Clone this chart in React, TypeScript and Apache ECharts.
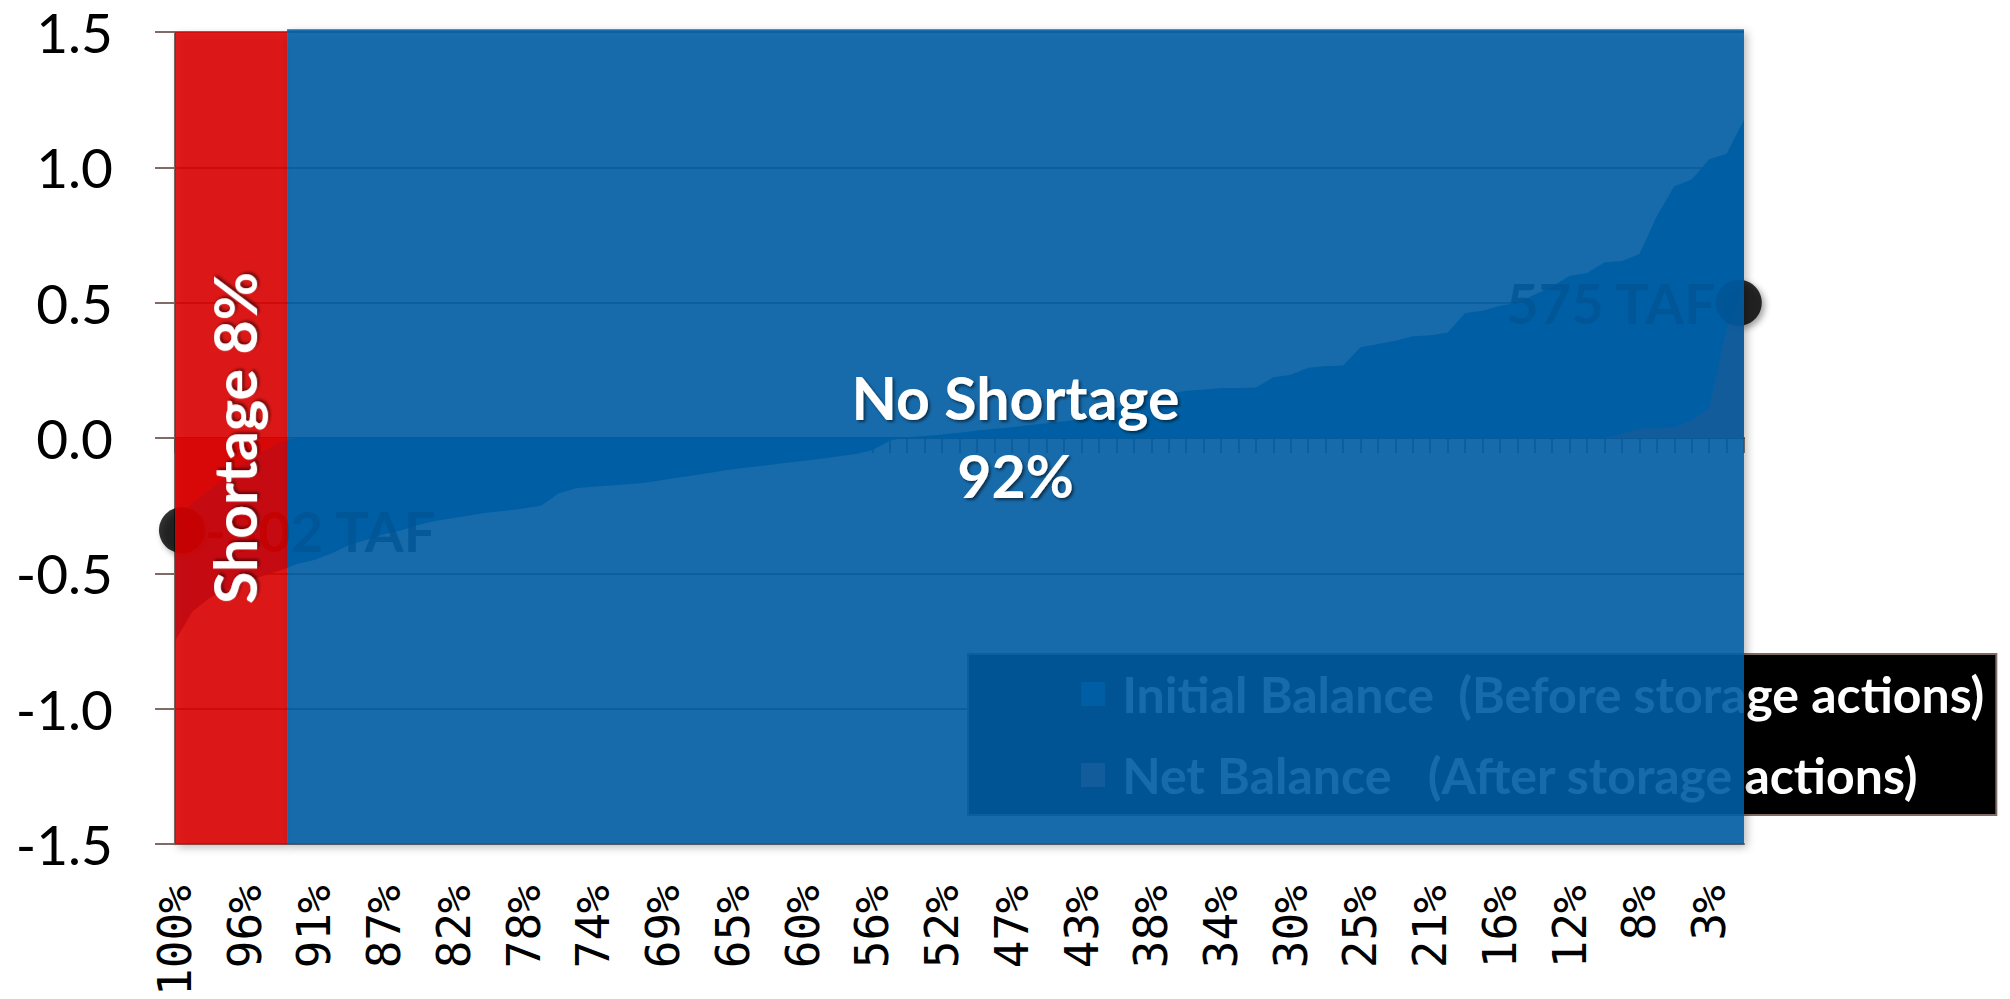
import React, { useEffect, useRef } from 'react';
import * as echarts from 'echarts';

// Exceedance probability categories (91 points)
const categories = [
  '100%', '99%', '98%', '97%', '96%', '95%', '93%', '92%', '91%', '90%',
  '89%', '88%', '87%', '86%', '85%', '84%', '82%', '81%', '80%', '79%',
  '78%', '77%', '76%', '75%', '74%', '73%', '71%', '70%', '69%', '68%',
  '67%', '66%', '65%', '64%', '63%', '62%', '60%', '59%', '58%', '57%',
  '56%', '55%', '54%', '53%', '52%', '51%', '49%', '48%', '47%', '46%',
  '45%', '44%', '43%', '42%', '41%', '40%', '38%', '37%', '36%', '35%',
  '34%', '33%', '32%', '31%', '30%', '29%', '27%', '26%', '25%', '24%',
  '23%', '22%', '21%', '20%', '19%', '18%', '16%', '15%', '14%', '13%',
  '12%', '11%', '10%', '9%', '8%', '7%', '5%', '4%', '3%', '2%',
  '1%',
];

// Initial Balance (Before storage actions), MAF
const initialBalance = [
  -0.75, -0.64, -0.59, -0.56, -0.53, -0.51, -0.49, -0.465, -0.45, -0.425,
  -0.395, -0.375, -0.355, -0.34, -0.32, -0.305, -0.295, -0.285, -0.275, -0.268,
  -0.26, -0.25, -0.205, -0.185, -0.18, -0.175, -0.17, -0.165, -0.155, -0.145,
  -0.135, -0.125, -0.115, -0.108, -0.1, -0.092, -0.085, -0.077, -0.068, -0.06,
  -0.045, -0.01, 0.003, 0.008, 0.013, 0.02, 0.028, 0.035, 0.04, 0.048,
  0.055, 0.062, 0.07, 0.09, 0.11, 0.135, 0.155, 0.165, 0.175, 0.18,
  0.185, 0.185, 0.187, 0.225, 0.234, 0.26, 0.266, 0.268, 0.336, 0.348,
  0.36, 0.376, 0.38, 0.39, 0.462, 0.47, 0.489, 0.5, 0.53, 0.56,
  0.6, 0.61, 0.65, 0.654, 0.68, 0.82, 0.93, 0.955, 1.03, 1.05,
  1.176,
];

// Net Balance (After storage actions), MAF
const netBalance = [
  -0.3, -0.24, -0.19, -0.14, -0.09, -0.05, -0.015, 0, 0, 0,
  0, 0, 0, 0, 0, 0, 0, 0, 0, 0,
  0, 0, 0, 0, 0, 0, 0, 0, 0, 0,
  0, 0, 0, 0, 0, 0, 0, 0, 0, 0,
  0, 0, 0, 0, 0, 0, 0, 0, 0, 0,
  0, 0, 0, 0, 0, 0, 0, 0, 0, 0,
  0, 0, 0, 0, 0, 0, 0, 0, 0, 0,
  0, 0, 0, 0, 0, 0, 0, 0, 0, 0,
  0, 0, 0, 0.015, 0.035, 0.036, 0.04, 0.065, 0.11, 0.4,
  0.575,
];

const seriesNames = [
  'Initial Balance  (Before storage actions)',
  'Net Balance   (After storage actions)',
];

// Shaded zones (in category-index units) and their labels
const zoneFrom = [0, 6.43];
const zoneTo = [6.43, 90];
const zoneTop = [1.5, 1.51];
const zoneBottom = [-1.5, -1.5];
const zoneLabels = ['Shortage 8%', 'No Shortage\n92%'];

// Annotated points
const dotX = [0.4, 89.7];
const dotY = [-0.34, 0.5];
const dotLabels = ['-302 TAF', '575 TAF'];

const Y_MIN = -1.5;
const Y_MAX = 1.5;
const Y_STEP = 0.5;

const axisColor = '#806c64';
const initialColor = 'rgb(0,122,188)';
const netColor = 'rgb(213,88,88)';
const zoneFill = ['rgba(220,0,0,0.88)', 'rgba(0,93,165,0.88)'];
const zoneRotation = [Math.PI / 2, 0];

export default function App() {
  const ref = useRef<HTMLDivElement>(null);

  useEffect(() => {
    if (!ref.current) return;
    const chart = echarts.init(ref.current, undefined, { renderer: 'svg' });

    const option: any = {
      animation: false,
      backgroundColor: '#ffffff',
      grid: { left: 175, right: 266, top: 32, bottom: 152, containLabel: false },
      legend: {
        data: seriesNames,
        orient: 'vertical',
        left: 968,
        top: 654,
        padding: [15, 12, 15, 113],
        itemGap: 31,
        itemWidth: 24,
        itemHeight: 24,
        icon: 'rect',
        backgroundColor: '#000000',
        borderColor: axisColor,
        borderWidth: 2,
        itemStyle: { borderWidth: 0 },
        formatter: (name: string) => ' ' + name,
        textStyle: {
          color: '#ffffff',
          fontFamily: 'Lato',
          fontWeight: 'bold',
          fontSize: 50,
        },
      },
      xAxis: [
        {
          type: 'category',
          data: categories,
          boundaryGap: false,
          axisLine: { onZero: false, lineStyle: { color: axisColor, width: 2 } },
          axisTick: { show: false },
          axisLabel: {
            interval: 3,
            rotate: 90,
            margin: 41,
            fontFamily: 'DejaVu Sans Mono',
            fontSize: 46,
            color: '#000000',
          },
          splitLine: { show: false },
        },
        {
          type: 'category',
          data: categories,
          boundaryGap: false,
          position: 'bottom',
          axisLine: { onZero: true, lineStyle: { color: '#5e4e48', width: 2 } },
          axisTick: { show: true, interval: 0, length: 15, lineStyle: { color: '#5e4e48', width: 1.5 } },
          axisLabel: { show: false },
          splitLine: { show: false },
        },
        { type: 'value', min: 0, max: 90, show: false },
      ],
      yAxis: {
        type: 'value',
        min: Y_MIN,
        max: Y_MAX,
        interval: Y_STEP,
        axisLine: { show: true, onZero: false, lineStyle: { color: axisColor, width: 2 } },
        axisTick: { show: true, length: 20, lineStyle: { color: axisColor, width: 2 } },
        axisLabel: {
          formatter: (v: number) => v.toFixed(1),
          fontFamily: 'Lato',
          fontSize: 55,
          color: '#000000',
          margin: 62,
        },
        splitLine: { show: true, lineStyle: { color: axisColor, width: 2 } },
      },
      series: [
        {
          name: seriesNames[0],
          type: 'line',
          data: initialBalance,
          xAxisIndex: 0,
          showSymbol: false,
          symbol: 'none',
          lineStyle: { width: 0 },
          itemStyle: { color: initialColor },
          areaStyle: { color: initialColor, opacity: 1 },
          z: 2,
        },
        {
          name: seriesNames[1],
          type: 'line',
          data: netBalance,
          xAxisIndex: 0,
          showSymbol: false,
          symbol: 'none',
          lineStyle: { width: 0 },
          itemStyle: { color: netColor },
          areaStyle: { color: netColor, opacity: 1 },
          z: 3,
        },
        {
          type: 'scatter',
          xAxisIndex: 2,
          clip: false,
          symbolSize: 46,
          data: dotX.map((x, i) => ({
            value: [x, dotY[i]],
            label: { position: i === 0 ? 'right' : 'left' },
          })),
          itemStyle: {
            color: '#000000',
            shadowBlur: 6,
            shadowColor: 'rgba(0,0,0,0.45)',
            shadowOffsetX: 3,
            shadowOffsetY: 3,
          },
          label: {
            show: true,
            formatter: (p: any) => dotLabels[p.dataIndex],
            color: '#000000',
            fontFamily: 'Lato',
            fontWeight: 'bold',
            fontSize: 56,
            distance: 0,
          },
          z: 4,
        },
        {
          type: 'custom',
          xAxisIndex: 2,
          clip: false,
          data: zoneFrom.map((f, i) => [f, zoneTo[i], zoneTop[i], zoneBottom[i]]),
          renderItem: (params: any, api: any) => {
            const i = params.dataIndex;
            const tl = api.coord([api.value(0), api.value(2)]);
            const br = api.coord([api.value(1), api.value(3)]);
            const w = br[0] - tl[0];
            const h = br[1] - tl[1];
            return {
              type: 'group',
              children: [
                {
                  type: 'rect',
                  shape: { x: tl[0], y: tl[1], width: w, height: h },
                  style: {
                    fill: zoneFill[i],
                    shadowBlur: 8,
                    shadowColor: 'rgba(0,0,0,0.3)',
                    shadowOffsetX: 3,
                    shadowOffsetY: 3,
                  },
                },
                {
                  type: 'text',
                  x: tl[0] + w / 2 + (i === 0 ? 3 : 0),
                  y: tl[1] + h / 2,
                  rotation: zoneRotation[i],
                  style: {
                    text: zoneLabels[i],
                    fill: '#ffffff',
                    fontFamily: 'Lato',
                    fontWeight: 'bold',
                    fontSize: 59,
                    lineHeight: 78,
                    align: 'center',
                    verticalAlign: 'middle',
                    textShadowColor: 'rgba(0,0,0,0.55)',
                    textShadowBlur: 3,
                    textShadowOffsetX: 2,
                    textShadowOffsetY: 2,
                  },
                },
              ],
            };
          },
          z: 10,
        },
      ],
    };

    chart.setOption(option);
    return () => chart.dispose();
  }, []);

  return (
    <div
      ref={ref}
      style={{ position: 'fixed', left: 0, top: 0, width: 2010, height: 999, background: '#fff' }}
    />
  );
}
